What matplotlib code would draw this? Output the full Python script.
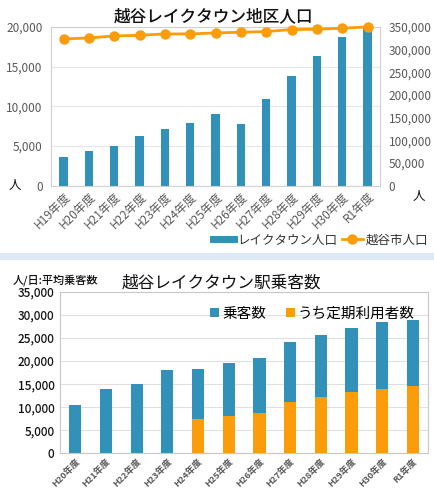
import numpy as np
import matplotlib.pyplot as plt
from matplotlib.ticker import FuncFormatter
from matplotlib.lines import Line2D
from matplotlib.patches import Rectangle

plt.rcParams['font.family'] = ['Noto Sans CJK JP', 'DejaVu Sans']

# Top chart: Koshigaya Laketown district population
years_top = ['H19年度', 'H20年度', 'H21年度', 'H22年度', 'H23年度', 'H24年度', 'H25年度',
             'H26年度', 'H27年度', 'H28年度', 'H29年度', 'H30年度', 'R1年度']
laketown_pop = [3630, 4390, 5060, 6290, 7170, 7930, 9030, 7810, 10930, 13840, 16370, 18780, 20000]
city_pop = [323400, 325600, 330000, 331500, 334500, 334500, 336700, 338200, 339700,
            344100, 344800, 347000, 350000]

# Bottom chart: Koshigaya-Laketown station daily passengers
years_bot = ['H20年度', 'H21年度', 'H22年度', 'H23年度', 'H24年度', 'H25年度',
             'H26年度', 'H27年度', 'H28年度', 'H29年度', 'H30年度', 'R1年度']
passengers = [10400, 14000, 14900, 18100, 18300, 19600, 20600, 24200, 25700, 27200, 28500, 28800]
commuters = [0, 0, 0, 0, 7400, 8100, 8700, 11100, 12100, 13200, 14000, 14600]

BLUE = '#3291b8'
ORANGE = '#fb9c0a'
GRAY = '#595959'
fmt = FuncFormatter(lambda v, p: f'{int(v):,}')

fig = plt.figure(figsize=(4.35, 4.98), dpi=100)

# ---- top chart ----
ax1 = fig.add_axes([0.117, 0.627, 0.757, 0.319])
x1 = np.arange(len(years_top))
ax1.bar(x1, laketown_pop, width=0.33, color=BLUE, zorder=2)
ax1.set_xlim(-0.5, len(years_top) - 0.5)
ax1.set_ylim(0, 20000)
ax1.set_yticks(np.arange(0, 20001, 5000))
ax1.yaxis.set_major_formatter(fmt)
ax1.grid(axis='y', color='#e6e6e6', lw=0.8, zorder=0)
ax1.set_xticks(x1)
ax1.set_xticklabels(years_top, rotation=45, ha='right', rotation_mode='anchor',
                    fontsize=8.5, color=GRAY)
ax1.tick_params(axis='y', labelsize=8.5, colors=GRAY, length=0, pad=6)
ax1.tick_params(axis='x', length=0, pad=3)
for s in ax1.spines.values():
    s.set_color('#d0d0d0')

ax2 = ax1.twinx()
ax2.plot(x1, city_pop, color=ORANGE, lw=2, marker='o', ms=6.5, zorder=3, clip_on=False)
ax2.set_ylim(0, 350000)
ax2.set_yticks(np.arange(0, 350001, 50000))
ax2.yaxis.set_major_formatter(fmt)
ax2.tick_params(axis='y', labelsize=8.5, colors=GRAY, length=0, pad=6)
for s in ax2.spines.values():
    s.set_visible(False)

fig.text(0.49, 0.968, '越谷レイクタウン地区人口', ha='center', va='center', fontsize=12,
         color='#111111', fontweight='medium')
fig.text(0.035, 0.627, '人', ha='center', va='center', fontsize=9, color='#111111')
fig.text(0.962, 0.605, '人', ha='center', va='center', fontsize=9, color='#111111')

handles1 = [Line2D([0], [0], color=BLUE, lw=5),
            Line2D([0], [0], color=ORANGE, lw=2, marker='o', ms=6.5)]
fig.legend(handles1, ['レイクタウン人口', '越谷市人口'], loc='center right',
           bbox_to_anchor=(1.01, 0.518), ncol=2, frameon=False, fontsize=9,
           handlelength=1.7, columnspacing=0.4, handletextpad=0.2, labelcolor='#333333')

# separator band
fig.patches.append(Rectangle((0, 0.477), 1, 0.014, transform=fig.transFigure,
                             facecolor='#dde9f6', edgecolor='none'))

# ---- bottom chart ----
ax3 = fig.add_axes([0.138, 0.090, 0.846, 0.324])
x3 = np.arange(len(years_bot))
ax3.bar(x3, passengers, width=0.4, color=BLUE, zorder=2, label='乗客数')
ax3.bar(x3, commuters, width=0.4, color=ORANGE, zorder=3, label='うち定期利用者数')
ax3.set_xlim(-0.5, len(years_bot) - 0.5)
ax3.set_ylim(0, 35000)
ax3.set_yticks(np.arange(0, 35001, 5000))
ax3.yaxis.set_major_formatter(fmt)
ax3.grid(axis='y', color='#e0e0e0', lw=0.8, zorder=0)
ax3.set_xticks(x3)
ax3.set_xticklabels(years_bot, rotation=45, ha='right', rotation_mode='anchor',
                    fontsize=6.5, color=GRAY, fontweight='bold')
ax3.tick_params(axis='y', labelsize=8.5, colors='#111111', length=0, pad=4)
for lbl in ax3.get_yticklabels():
    lbl.set_fontweight('medium')
ax3.tick_params(axis='x', length=0, pad=3)
for s in ax3.spines.values():
    s.set_color('#c8c8c8')
ax3.legend(loc='upper right', bbox_to_anchor=(1.0, 0.99), ncol=2, frameon=False,
           fontsize=10.5, handlelength=0.6, handleheight=0.6, handletextpad=0.2,
           columnspacing=1.4)

fig.text(0.03, 0.438, '人/日:平均乗客数', ha='left', va='center', fontsize=8,
         color='#111111', fontweight='medium')
fig.text(0.51, 0.432, '越谷レイクタウン駅乗客数', ha='center', va='center', fontsize=12,
         color='#111111')

fig.savefig('out.png', dpi=100)
